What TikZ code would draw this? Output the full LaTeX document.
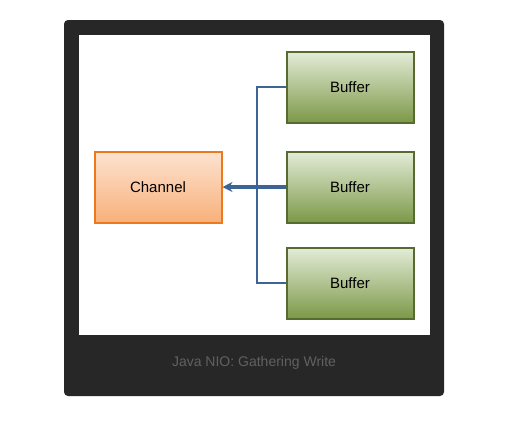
\documentclass[tikz,border=0pt]{standalone}
\usepackage{fontspec}
\setmainfont{Liberation Sans}
\usepackage{xcolor}
\usepackage{tikz}
\usetikzlibrary{positioning, arrows.meta}

\definecolor{frameDark}{HTML}{272727}
\definecolor{wireBlue}{HTML}{3D6496}
\definecolor{bufTop}{HTML}{E4ECD8}
\definecolor{bufBot}{HTML}{7C9948}
\definecolor{bufLine}{HTML}{576B30}
\definecolor{chTop}{HTML}{FDE3D0}
\definecolor{chBot}{HTML}{F8B07A}
\definecolor{chLine}{HTML}{EC7A1C}

\begin{document}
\begin{tikzpicture}[x=1pt, y=-1pt,
            buffer/.style={rectangle, draw=bufLine, line width=2pt, top color=bufTop, bottom color=bufBot, minimum width=127pt, minimum height=71pt, font=\fontsize{15}{18}\selectfont},
            channel/.style={rectangle, draw=chLine, line width=2pt, top color=chTop, bottom color=chBot, minimum width=127pt, minimum height=71pt, font=\fontsize{15}{18}\selectfont},
            wire/.style={draw=wireBlue, line width=2.4pt},
            gather/.style={wire, line width=3.2pt, -{Stealth[length=10pt, width=10pt]}}
        ]

        \useasboundingbox (0,0) rectangle (505,421);

        % frame
        \fill[frameDark, rounded corners=4pt] (64,20) rectangle (444,396);
        \fill[white] (79,35) rectangle (430,335);

        \node[channel] (ch) at (158,187) {Channel};
        \node[buffer] (b1) at (350,87) {Buffer};
        \node[buffer] (b2) at (350,187) {Buffer};
        \node[buffer] (b3) at (350,283) {Buffer};

        \coordinate (bus) at (257,187);

        \draw[wire] (b1.west) -| (bus) |- (b3.west);
        \draw[gather] (b2.west) -- (ch.east);

        \node[text=black!62, font=\fontsize{14}{16}\selectfont] (caption) at (254,363) {Java NIO: Gathering Write};

    \end{tikzpicture}
\end{document}
